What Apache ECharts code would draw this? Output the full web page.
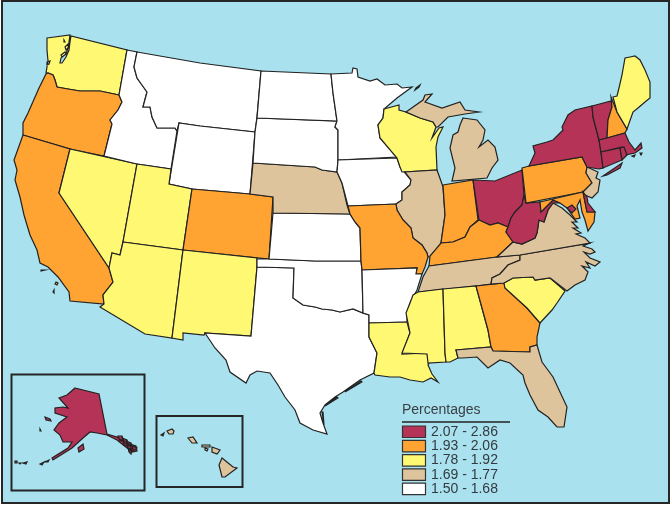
<!DOCTYPE html>
<html lang="en">
<head>
<meta charset="UTF-8">
<title>Percentages by state</title>
<style>
html, body { margin: 0; padding: 0; background: #fff; }
#main { width: 672px; height: 508px; }
</style>
</head>
<body>
<div id="main"></div>

<script src="https://cdn.jsdelivr.net/npm/echarts@6/dist/echarts.min.js"></script>
<script>
// legend classes, highest first
var binLabels = ['2.07 - 2.86', '1.93 - 2.06', '1.78 - 1.92', '1.69 - 1.77', '1.50 - 1.68'];
var binMin = [2.07, 1.93, 1.78, 1.69, 1.50];
var binMax = [2.86, 2.06, 1.92, 1.77, 1.68];
var binColors = ['#b63358', '#ffa333', '#fff873', '#dec49c', '#ffffff'];

var binStates = [
    ['NY', 'VT', 'MA', 'CT', 'RI', 'OH', 'WV', 'DE', 'DC', 'AK'],
    ['OR', 'CA', 'CO', 'MO', 'IN', 'KY', 'PA', 'GA', 'MD', 'NH'],
    ['WA', 'NV', 'UT', 'AZ', 'NM', 'WI', 'LA', 'MS', 'AL', 'SC', 'ME'],
    ['NE', 'IL', 'MI', 'TN', 'VA', 'NC', 'FL', 'NJ', 'HI'],
    ['MT', 'ID', 'WY', 'ND', 'SD', 'MN', 'IA', 'KS', 'OK', 'TX', 'AR']
];

// state outlines (a state can have several rings)
var shapes = {
    WA: [[[47,38],[70,35],[69,42],[68,48],[66,54],[61,58],[60,63],[62,63],[66,57],[69,50],[70,42],[71,36],[127,50],[119,95],[100,91],[80,91],[68,89],[57,87],[55,80],[53,75],[48,73],[46,73],[48,61],[47,50]],
        [[64,40],[65,40],[65,42],[64,42]], [[65,47],[68,44],[69,47],[66,50]], [[61,55],[65,52],[66,54],[62,57]], [[47,62],[50,61],[49,64],[47,65]]],
    OR: [[[46,74],[48,73],[53,75],[55,80],[57,87],[68,89],[80,91],[100,91],[119,95],[122,102],[118,110],[110,120],[112,124],[104,156],[70,149],[23,135],[23,123],[28,113],[39,88]]],
    CA: [[[23,135],[70,149],[59,193],[109,268],[113,282],[103,295],[104,304],[70,301],[69,292],[58,277],[48,267],[40,263],[37,250],[30,235],[24,215],[20,197],[15,180],[17,170],[14,160]],
        [[56,282],[58,283],[57,285],[55,284]], [[54,290],[55,291],[54,293],[53,292]], [[41,270],[45,270],[45,271],[41,271]]],
    NV: [[[70,149],[137,164],[123,242],[120,255],[112,253],[109,268],[59,193]]],
    ID: [[[127,50],[137,52],[134,67],[137,78],[147,92],[143,107],[150,107],[152,117],[157,128],[175,128],[177,131],[171,169],[137,164],[104,156],[112,124],[110,120],[118,110],[122,102],[119,95]]],
    MT: [[[137,52],[200,63],[261,71],[257,117],[255,132],[200,126],[179,123],[177,131],[175,128],[157,128],[152,117],[150,107],[143,107],[147,92],[137,78],[134,67]]],
    WY: [[[179,123],[200,126],[255,132],[250,194],[192,189],[169,184]]],
    UT: [[[137,164],[171,169],[169,184],[192,189],[183,250],[123,242]]],
    CO: [[[192,189],[250,194],[273,197],[269,259],[183,250]]],
    AZ: [[[123,242],[183,250],[172,338],[145,334],[100,307],[104,304],[103,295],[113,282],[109,268],[112,253],[120,255]]],
    NM: [[[183,250],[257,258],[257,267],[251,336],[205,333],[204,335],[183,333],[183,340],[172,338]]],
    TX: [[[257,267],[294,268],[293,298],[303,305],[315,307],[322,309],[332,310],[340,312],[353,309],[363,313],[369,315],[369,323],[369,337],[377,353],[374,373],[360,380],[343,392],[335,397],[325,405],[320,413],[323,423],[327,434],[313,430],[300,423],[295,410],[285,397],[278,385],[270,373],[257,371],[250,375],[246,383],[230,372],[226,360],[215,348],[205,333],[251,336]],
        [[361,381],[345,392],[346,393],[362,382]], [[337,397],[325,406],[326,407],[338,398]], [[322,412],[324,425],[325,425],[323,412]]],
    OK: [[[257,259],[269,259],[315,261],[361,261],[362,270],[363,313],[353,309],[340,312],[332,310],[322,309],[315,307],[303,305],[293,298],[294,268],[257,267]]],
    KS: [[[273,213],[350,214],[355,222],[360,228],[361,261],[315,261],[269,259]]],
    NE: [[[253,163],[315,167],[322,170],[337,172],[342,183],[347,205],[350,214],[273,213],[273,197],[250,194]]],
    SD: [[[257,118],[337,121],[335,127],[338,130],[338,160],[337,172],[322,170],[315,167],[253,163],[255,132]]],
    ND: [[[261,71],[331,74],[333,93],[337,121],[257,118]]],
    MN: [[[331,74],[352,73],[353,68],[357,69],[358,77],[370,81],[377,79],[385,85],[397,84],[402,88],[412,87],[397,98],[384,109],[383,118],[378,125],[380,138],[397,157],[397,158],[338,160],[338,130],[335,127],[337,121],[333,93]]],
    IA: [[[338,160],[397,158],[400,167],[411,180],[410,185],[402,192],[402,200],[396,204],[348,206],[342,183],[337,172]]],
    WI: [[[384,109],[399,105],[399,110],[406,112],[420,118],[433,122],[436,127],[432,138],[439,128],[443,127],[438,137],[436,147],[437,170],[402,172],[400,167],[397,158],[380,138],[378,125],[383,118]]],
    MI: [[[406,112],[423,100],[425,95],[432,94],[425,102],[442,108],[460,102],[465,110],[479,112],[465,114],[448,117],[438,127],[436,127],[433,122],[420,118]],
        [[463,118],[477,120],[485,130],[483,140],[479,147],[488,140],[495,147],[498,160],[492,168],[487,178],[452,181],[455,168],[450,148],[453,135],[458,132],[460,125]],
        [[416,88],[420,85],[419,87],[415,90]]],
    IL: [[[405,172],[437,170],[442,184],[443,187],[445,215],[441,243],[436,250],[432,257],[428,257],[427,253],[422,245],[413,238],[411,228],[403,220],[397,210],[396,204],[402,200],[402,192],[410,185],[411,180]]],
    IN: [[[443,185],[473,180],[478,220],[470,227],[465,237],[453,242],[441,243],[445,215]]],
    OH: [[[473,180],[495,181],[522,170],[524,195],[522,205],[515,212],[511,218],[508,227],[498,223],[490,225],[479,220]]],
    KY: [[[479,220],[490,225],[498,223],[508,227],[506,232],[513,242],[497,257],[429,266],[430,256],[441,243],[453,242],[465,237],[470,227]]],
    TN: [[[429,266],[497,257],[520,255],[520,260],[508,265],[500,274],[492,278],[491,284],[476,286],[418,292],[423,277]]],
    MO: [[[348,206],[396,204],[397,210],[403,220],[411,228],[413,238],[422,245],[427,253],[428,257],[425,267],[422,274],[416,274],[417,268],[362,270],[361,261],[360,228],[355,222],[350,214]]],
    AR: [[[362,270],[417,268],[416,274],[422,274],[417,290],[410,303],[407,313],[407,322],[369,323],[369,315],[363,313]]],
    LA: [[[369,323],[407,322],[410,333],[402,354],[427,353],[429,363],[428,365],[432,374],[438,382],[431,378],[423,382],[410,380],[400,377],[390,377],[375,375],[374,373],[377,353],[369,337]]],
    MS: [[[418,292],[443,289],[445,353],[446,362],[428,363],[427,354],[402,353],[410,333],[406,313],[410,303],[413,295]]],
    AL: [[[443,289],[476,286],[488,330],[491,347],[456,350],[458,358],[450,362],[446,362],[445,353]]],
    GA: [[[476,286],[504,283],[505,288],[527,308],[540,323],[537,337],[537,345],[530,347],[530,352],[493,351],[491,347],[488,330]]],
    SC: [[[505,288],[504,283],[513,278],[533,277],[535,280],[550,278],[565,291],[557,303],[552,310],[540,323],[527,308]]],
    NC: [[[520,255],[590,243],[583,246],[592,249],[595,252],[590,254],[584,252],[590,258],[600,262],[595,266],[586,262],[590,268],[582,266],[588,272],[585,280],[575,285],[567,291],[550,278],[535,280],[533,277],[513,278],[504,283],[491,284],[492,278],[500,274],[508,265],[520,260]]],
    VA: [[[497,257],[513,242],[522,244],[535,238],[537,233],[539,220],[544,222],[548,210],[553,203],[562,208],[570,215],[577,222],[572,222],[578,228],[573,228],[581,233],[576,234],[585,238],[590,243],[520,255]]],
    WV: [[[524,195],[526,203],[540,202],[541,212],[550,203],[553,200],[560,203],[553,203],[548,210],[544,222],[539,220],[537,233],[535,238],[522,244],[513,242],[506,232],[508,227],[511,218],[515,212],[522,205]]],
    PA: [[[522,168],[529,166],[582,157],[587,167],[586,173],[592,183],[583,192],[526,203]]],
    NJ: [[[587,167],[598,172],[596,178],[600,180],[598,192],[592,198],[585,195],[583,192],[592,183],[586,173]]],
    NY: [[[529,166],[535,153],[533,146],[547,142],[553,140],[563,130],[562,127],[568,115],[575,110],[592,106],[593,117],[599,140],[601,152],[603,168],[599,169],[587,167],[582,157]],
        [[603,176],[622,163],[620,168],[607,175]]],
    VT: [[[592,106],[611,101],[612,107],[608,120],[607,138],[599,140],[593,117]]],
    NH: [[[611,97],[617,112],[627,129],[625,133],[607,138],[608,120],[612,107]]],
    ME: [[[613,97],[617,96],[619,88],[622,75],[625,58],[630,57],[635,56],[640,60],[645,70],[650,82],[650,98],[645,102],[638,108],[633,112],[627,129],[617,112]]],
    MA: [[[599,140],[607,138],[625,133],[629,142],[635,150],[641,143],[642,148],[635,153],[625,155],[622,147],[601,152]],
        [[632,156],[635,155],[634,157]], [[640,153],[642,153],[641,155]]],
    CT: [[[601,152],[620,148],[622,160],[603,168]]],
    RI: [[[620,148],[624,147],[627,155],[622,160]]],
    MD: [[[540,202],[583,192],[587,212],[595,212],[594,222],[588,231],[585,220],[582,212],[580,200],[577,206],[580,218],[575,219],[567,208],[560,203],[553,200],[550,203],[541,212]]],
    DE: [[[583,192],[587,197],[588,203],[595,212],[587,212]]],
    DC: [[[567,208],[572,205],[576,209],[572,213]]],
    FL: [[[456,350],[491,347],[493,351],[530,352],[530,347],[537,345],[542,362],[553,377],[567,407],[564,427],[557,427],[548,417],[538,410],[530,395],[525,383],[523,375],[510,363],[500,360],[488,368],[477,357],[463,358],[458,358]]],
    AK: [[[75,388],[99,394],[107,434],[117,437],[125,443],[137,448],[132,452],[117,440],[107,435],[97,433],[90,432],[83,438],[72,448],[53,460],[52,458],[68,448],[72,442],[63,442],[60,435],[54,430],[59,423],[67,417],[55,413],[55,408],[63,407],[68,408],[59,398],[67,395]],
        [[78,448],[83,444],[84,449],[79,452]], [[45,417],[50,419],[51,421],[46,420]], [[40,429],[41,429],[41,431],[40,431]],
        [[15,461],[17,461],[17,463],[15,463]], [[19,463],[21,463],[20,464]], [[23,463],[27,462],[26,464]], [[40,464],[44,462],[45,463],[42,465]], [[45,462],[49,460],[48,462]],
        [[118,436],[122,436],[124,441],[120,441]], [[122,438],[127,440],[129,446],[124,445]], [[126,441],[131,443],[133,449],[128,448]], [[130,444],[136,446],[137,451],[132,452]], [[128,448],[132,450],[131,454],[129,452]]],
    HI: [[[222,458],[233,467],[237,468],[225,477],[222,477],[219,465]],
        [[212,447],[220,450],[217,454],[212,452]], [[205,448],[208,449],[207,451],[205,450]], [[202,445],[210,445],[210,447],[202,447]],
        [[188,438],[193,437],[197,443],[192,443]], [[167,431],[172,429],[174,431],[173,434],[169,434]], [[161,435],[164,433],[163,436]]]
};

var W = 672, H = 508;

var features = Object.keys(shapes).map(function(id) {
    return {
        type: 'Feature',
        properties: { name: id },
        geometry: { type: 'MultiPolygon', coordinates: shapes[id].map(function(ring) { return [ring]; }) }
    };
});
echarts.registerMap('usa', { type: 'FeatureCollection', features: features });

var mapData = [];
binStates.forEach(function(list, i) {
    list.forEach(function(id) {
        mapData.push({ name: id, value: binMin[i] });
    });
});

var pieces = binLabels.map(function(label, i) {
    return { min: binMin[i], max: binMax[i], color: binColors[i], label: label };
});

var frame = function(x, y, w, h, lw) {
    return { type: 'rect', shape: { x: x, y: y, width: w, height: h }, style: { fill: 'none', stroke: '#262626', lineWidth: lw } };
};

// insets, outer frame and the legend
var font = '14px "Liberation Sans", Arial, sans-serif';
var graphics = [
    { type: 'rect', z: -1, shape: { x: 2, y: 1, width: 667, height: 502 }, style: { fill: '#a9e1ee' } },
    frame(2, 1, 667, 502, 2),
    frame(11.5, 374.5, 133, 116, 2),
    frame(156.5, 416, 86, 71, 2),
    { type: 'text', style: { x: 402, y: 410, text: 'Percentages', fill: '#3a3f45', font: font, verticalAlign: 'middle' } },
    { type: 'line', shape: { x1: 402, y1: 422, x2: 510, y2: 422 }, style: { stroke: '#222', lineWidth: 1.5 } }
];
binLabels.forEach(function(label, i) {
    var y = 426 + i * 14.3;
    graphics.push({ type: 'rect', shape: { x: 402.5, y: y, width: 23, height: 11.5 }, style: { fill: binColors[i], stroke: '#333', lineWidth: 1.2 } });
    graphics.push({ type: 'text', style: { x: 431, y: y + 6, text: label, fill: '#333a40', font: font, verticalAlign: 'middle' } });
});

var myChart = echarts.init(document.getElementById('main'));

var option = {
    backgroundColor: '#fff',
    animation: false,
    graphic: graphics,
    visualMap: { show: false, type: 'piecewise', pieces: pieces, seriesIndex: 0 },
    series: [
        {
            type: 'map',
            map: 'usa',
            projection: {
                project: function(p) { return p; },
                unproject: function(p) { return p; }
            },
            boundingCoords: [[0, 0], [W, H]],
            left: 0,
            top: 0,
            width: W,
            height: H,
            silent: true,
            roam: false,
            label: { show: false },
            itemStyle: { borderColor: '#222', borderWidth: 1.2, areaColor: '#fff' },
            data: mapData
        }
    ]
};

myChart.setOption(option);
</script>
</body>
</html>
